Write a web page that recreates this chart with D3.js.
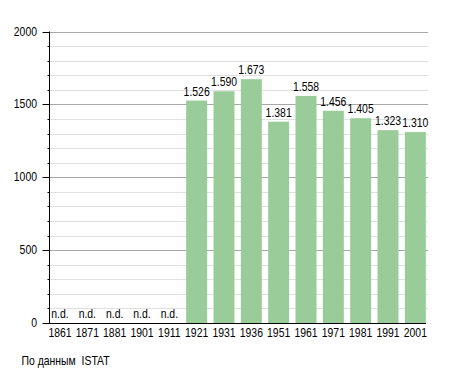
<!DOCTYPE html>
<html><head><meta charset="utf-8">
<script src="https://cdn.jsdelivr.net/npm/d3@7/dist/d3.min.js"></script>
<style>body{margin:0;background:#fff}svg{display:block}text{font-family:"Liberation Sans",Arial,sans-serif;font-size:12px;fill:#000}</style>
</head><body>
<script>
const years = ["1861","1871","1881","1901","1911","1921","1931","1936","1951","1961","1971","1981","1991","2001"];
const population = [null,null,null,null,null,1526,1590,1673,1381,1558,1456,1405,1323,1310];
const yTicks = [0,500,1000,1500,2000];
const sourceNote = "По данным  ISTAT";

const W=455,H=373;
const SX=0.87;
const svg=d3.select("body").append("svg").attr("width",W).attr("height",H);
const axX=49.5,gridEnd=428,axEnd=426,yTop=31.5,yBot=323;
const x=d3.scaleBand().domain(years).range([46.33,429]).paddingInner(0.232).paddingOuter(0.116);
const y=d3.scaleLinear().domain([0,2000]).range([yBot,yTop]);
const place=(tx,ty)=>`translate(${tx},${ty}) scale(${SX},1)`;

const minor=d3.range(100,2001,100);
svg.append("g").selectAll("line").data(minor).join("line")
 .attr("x1",axX).attr("x2",gridEnd).attr("y1",d=>Math.round(y(d))+0.5).attr("y2",d=>Math.round(y(d))+0.5)
 .attr("stroke",d=>d%500===0?"#a8a8a8":"#e0e0e0").attr("stroke-width",1);

const fmt=v=>d3.format(",")(v).replace(",",".");
svg.append("g").selectAll("rect").data(years.map((d,i)=>({year:d,v:population[i]})).filter(d=>d.v!=null)).join("rect")
 .attr("x",d=>x(d.year)).attr("width",x.bandwidth()).attr("y",d=>y(d.v)).attr("height",d=>yBot-y(d.v)).attr("fill","#99cc99");

svg.append("g").selectAll("text").data(years.map((d,i)=>({year:d,v:population[i]}))).join("text")
 .attr("transform",d=>place(x(d.year)+x.bandwidth()/2, d.v==null?yBot-5:y(d.v)-5))
 .attr("text-anchor","middle").text(d=>d.v==null?"n.d.":fmt(d.v));

// axes
svg.append("line").attr("x1",axX).attr("x2",axX).attr("y1",yTop).attr("y2",yBot+1).attr("stroke","#000");
svg.append("line").attr("x1",axX).attr("x2",axEnd).attr("y1",yBot+0.5).attr("y2",yBot+0.5).attr("stroke","#000");
svg.append("g").selectAll("line").data([0].concat(minor)).join("line")
 .attr("x1",d=>d%500===0?axX-7:axX-2).attr("x2",axX).attr("y1",d=>Math.round(y(d))+0.5).attr("y2",d=>Math.round(y(d))+0.5).attr("stroke","#000");
svg.append("g").selectAll("text").data(yTicks).join("text")
 .attr("transform",d=>place(37,y(d)+4)).attr("text-anchor","end").text(d=>d);
svg.append("g").selectAll("text").data(years).join("text")
 .attr("transform",d=>place(x(d)+x.bandwidth()/2,yBot+14)).attr("text-anchor","middle").text(d=>d);
svg.append("text").attr("transform",place(21.5,365)).style("white-space","pre").attr("xml:space","preserve").text(sourceNote);
</script>
</body></html>
